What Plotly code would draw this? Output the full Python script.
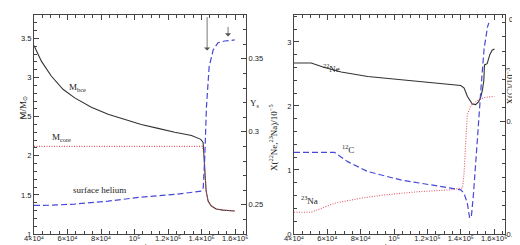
import plotly.graph_objects as go

# ---------------- data: left panel ----------------
bce_time = [4.0e4, 4.44e4, 5.03e4, 5.73e4, 6.43e4, 7.42e4, 8.42e4, 9.41e4, 1.04e5, 1.14e5,
            1.24e5, 1.34e5, 1.395e5, 1.409e5, 1.415e5, 1.421e5, 1.427e5, 1.439e5, 1.457e5,
            1.487e5, 1.528e5, 1.598e5]
bce_mass = [3.41, 3.21, 3.02, 2.85, 2.74, 2.62, 2.53, 2.46, 2.40, 2.35,
            2.30, 2.26, 2.21, 2.17, 2.0, 1.75, 1.55, 1.42, 1.36,
            1.32, 1.305, 1.295]
core_time = [4.0e4, 1.405e5, 1.415e5, 1.421e5, 1.427e5, 1.439e5, 1.457e5, 1.487e5, 1.528e5, 1.598e5]
core_mass = [2.12, 2.12, 2.0, 1.75, 1.55, 1.42, 1.36, 1.32, 1.305, 1.295]
ys_time = [4.0e4, 5.0e4, 6.43e4, 8.42e4, 1.04e5, 1.24e5, 1.40e5, 1.41e5, 1.419e5,
           1.429e5, 1.445e5, 1.469e5, 1.498e5, 1.538e5, 1.598e5]
ys_val = [0.2496, 0.2497, 0.2505, 0.2525, 0.2553, 0.2571, 0.2594, 0.2617, 0.2824,
          0.3169, 0.3445, 0.356, 0.361, 0.3622, 0.3629]
arrow_time = [1.433e5, 1.558e5]
arrow_mass = [3.346, 3.526]

# ---------------- data: right panel ----------------
ne_time = [4.0e4, 5.03e4, 5.83e4, 6.83e4, 8.42e4, 1.04e5, 1.24e5, 1.40e5, 1.42e5, 1.439e5,
           1.469e5, 1.489e5, 1.505e5, 1.518e5, 1.53e5, 1.538e5, 1.542e5, 1.558e5, 1.574e5,
           1.588e5, 1.602e5]
ne_val = [2.67, 2.67, 2.60, 2.53, 2.46, 2.41, 2.36, 2.32, 2.28, 2.15,
          2.03, 2.02, 2.06, 2.125, 2.25, 2.40, 2.64, 2.66, 2.80,
          2.87, 2.89]
na_time = [4.0e4, 5.03e4, 6.43e4, 8.02e4, 9.41e4, 1.14e5, 1.34e5, 1.41e5, 1.419e5, 1.429e5,
           1.439e5, 1.459e5, 1.498e5, 1.538e5, 1.602e5]
na_val = [0.34, 0.34, 0.48, 0.56, 0.61, 0.66, 0.69, 0.72, 0.93, 1.45,
          1.86, 2.0, 2.08, 2.13, 2.15]
c_time = [4.0e4, 6.43e4, 7.22e4, 8.42e4, 1.04e5, 1.24e5, 1.40e5, 1.419e5, 1.439e5, 1.453e5,
          1.463e5, 1.475e5, 1.488e5, 1.50e5, 1.52e5, 1.54e5, 1.56e5, 1.568e5]
c_val = [0.1090, 0.1090, 0.1057, 0.1022, 0.0992, 0.0972, 0.0957, 0.0945, 0.0910, 0.0857,
         0.0860, 0.0935, 0.1030, 0.1140, 0.1310, 0.1460, 0.1535, 0.1550]

time_ticks = [4e4, 6e4, 8e4, 1e5, 1.2e5, 1.4e5, 1.6e5]
time_labels = ["4×10⁴", "6×10⁴", "8×10⁴", "10⁵", "1.2×10⁵", "1.4×10⁵", "1.6×10⁵"]

BLACK = "#333333"
RED = "#e05a6a"
BLUE = "#4848d8"
FONT = "Liberation Sans, DejaVu Sans"
SERIF = "Liberation Serif"

fig = go.Figure()
fig.add_trace(go.Scatter(x=bce_time, y=bce_mass, mode="lines", line=dict(color=BLACK, width=1.1),
                         xaxis="x", yaxis="y"))
fig.add_trace(go.Scatter(x=core_time, y=core_mass, mode="lines",
                         line=dict(color=RED, width=1.1, dash="1px,1.5px"), xaxis="x", yaxis="y"))
fig.add_trace(go.Scatter(x=ys_time, y=ys_val, mode="lines",
                         line=dict(color=BLUE, width=1.2, dash="6px,3px"), xaxis="x", yaxis="y2"))
fig.add_trace(go.Scatter(x=ne_time, y=ne_val, mode="lines", line=dict(color=BLACK, width=1.1),
                         xaxis="x2", yaxis="y3"))
fig.add_trace(go.Scatter(x=na_time, y=na_val, mode="lines",
                         line=dict(color=RED, width=1.1, dash="1px,1.5px"), xaxis="x2", yaxis="y3"))
fig.add_trace(go.Scatter(x=c_time, y=c_val, mode="lines",
                         line=dict(color=BLUE, width=1.2, dash="6px,3px"), xaxis="x2", yaxis="y4"))

tickfont = dict(family=FONT, size=7.5, color="#222")
common = dict(showline=True, linecolor="#444", linewidth=1, ticks="inside", ticklen=5,
              tickcolor="#444", tickwidth=1, showgrid=False, zeroline=False, tickfont=tickfont,
              automargin=False)
xcommon = dict(common, range=[4e4, 1.665e5], tickvals=time_ticks, ticktext=time_labels,
               mirror="ticks", tickangle=0, ticklabelstandoff=-3,
               minor=dict(dtick=5e3, tick0=0, ticklen=3, ticks="inside", tickcolor="#444"))

fig.update_layout(
    width=520, height=245, showlegend=False,
    margin=dict(l=0, r=0, t=7, b=19, autoexpand=False),
    paper_bgcolor="white", plot_bgcolor="white",
    xaxis=dict(xcommon, domain=[26 / 520, 238 / 520], anchor="y"),
    yaxis=dict(common, range=[1, 3.8], tickvals=[1, 1.5, 2, 2.5, 3, 3.5],
               ticktext=["1", "1.5", "2", "2.5", "3", "3.5"],
               minor=dict(dtick=0.1, tick0=0, ticklen=3, ticks="inside", tickcolor="#444"),
               anchor="x"),
    yaxis2=dict(common, range=[0.23, 0.38], tickvals=[0.25, 0.3, 0.35],
                ticktext=["0.25", "0.3", "0.35"], side="right", overlaying="y", anchor="x",
                minor=dict(dtick=0.01, tick0=0, ticklen=3, ticks="inside", tickcolor="#444")),
    xaxis2=dict(xcommon, domain=[286 / 520, 497 / 520], anchor="y3"),
    yaxis3=dict(common, range=[0, 3.42], tickvals=[0, 1, 2, 3], anchor="x2",
                minor=dict(dtick=0.2, tick0=0, ticklen=3, ticks="inside", tickcolor="#444")),
    yaxis4=dict(common, range=[0.08, 0.1578], tickvals=[0.08, 0.12], ticktext=["0.08", "0.12"],
                side="right", overlaying="y3", anchor="x2", ticklabelstandoff=-1,
                minor=dict(dtick=0.005, tick0=0, ticklen=3, ticks="inside", tickcolor="#444")),
)

def P(px, py):
    return dict(x=px / 520, y=(226 - py) / 219, xref="paper", yref="paper")

lab = dict(family=SERIF, size=9, color="#222")
ann = []
# axis titles
ann.append(dict(P(7, 100), text="M/M<sub>⊙</sub>", textangle=-90, showarrow=False, font=lab))
ann.append(dict(P(247, 95), text="Y<sub>s</sub>", showarrow=False, font=lab))
ann.append(dict(P(132, 239), text="time", showarrow=False, font=lab, yanchor="middle"))
ann.append(dict(P(392, 239), text="time", showarrow=False, font=lab, yanchor="middle"))
ann.append(dict(P(265, 130), text="X(<sup>22</sup>Ne,<sup>23</sup>Na)/10<sup>−5</sup>",
                textangle=-90, showarrow=False, font=lab))
ann.append(dict(P(509, 58), text="X(C)/10<sup>−3</sup>", textangle=-90, showarrow=False, font=lab))
ann.append(dict(P(499, 5), text="0.16", showarrow=False, font=tickfont, xanchor="left"))
# curve labels
ann.append(dict(x=6.6e4, y=2.87, xref="x", yref="y", text="M<sub>bce</sub>", showarrow=False, font=lab))
ann.append(dict(x=5.67e4, y=2.23, xref="x", yref="y", text="M<sub>core</sub>", showarrow=False, font=lab))
ann.append(dict(x=7.9e4, y=1.56, xref="x", yref="y", text="surface helium", showarrow=False, font=lab))
ann.append(dict(x=6.27e4, y=2.59, xref="x2", yref="y3", text="<sup>22</sup>Ne", showarrow=False, font=lab))
ann.append(dict(x=7.22e4, y=1.33, xref="x2", yref="y3", text="<sup>12</sup>C", showarrow=False, font=lab))
ann.append(dict(x=4.9e4, y=0.53, xref="x2", yref="y3", text="<sup>23</sup>Na", showarrow=False, font=lab))
# arrows
for t, m, length in zip(arrow_time, arrow_mass, [35, 11]):
    ann.append(dict(x=t, y=m, xref="x", yref="y", ax=0, ay=-length, text="", showarrow=True,
                    arrowhead=1, arrowsize=1.3, arrowwidth=0.8, arrowcolor="#555"))
fig.update_layout(annotations=ann)

fig.write_html("out.html")
